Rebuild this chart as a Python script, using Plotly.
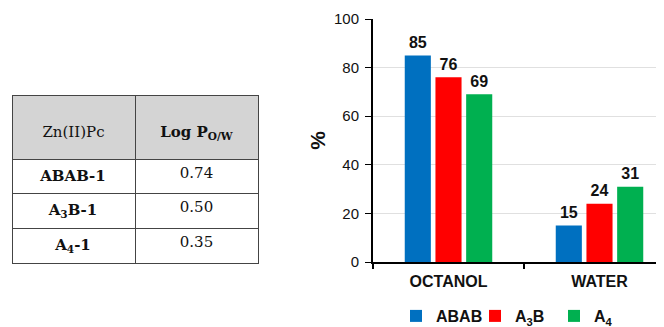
import plotly.graph_objects as go

# Table data
table_col_headers = ["Zn(II)Pc", "<b>Log P<sub>O/W</sub></b>"]
table_compounds = ["<b>ABAB-1</b>", "<b>A<sub>3</sub>B-1</b>", "<b>A<sub>4</sub>-1</b>"]
table_logp = ["0.74", "0.50", "0.35"]

# Bar chart data
categories = ["OCTANOL", "WATER"]
series_names = ["ABAB", "A<sub>3</sub>B", "A<sub>4</sub>"]
abab_vals = [85, 15]
a3b_vals = [76, 24]
a4_vals = [69, 31]
series_colors = ["#0070C0", "#FF0000", "#00B050"]
y_ticks = [0, 20, 40, 60, 80, 100]

# page body has an 8px margin, so the figure is drawn 8px in from the corner
OFF = 8
W, H = 664 - OFF, 327 - OFF
SANS = "Liberation Sans, Arial, sans-serif"
SERIF = "DejaVu Serif, Liberation Serif, serif"


def py(screen_y):
    """screen pixel row -> paper fraction (margins are zero)"""
    return 1 - (screen_y - OFF) / H


def px(screen_x):
    return (screen_x - OFF) / W


fig = go.Figure()

fig.add_trace(go.Table(
    domain=dict(x=[px(12), px(258)], y=[0.0, py(95)]),
    columnwidth=[1, 1],
    header=dict(
        values=["&nbsp;<br>" + h for h in table_col_headers],
        fill_color="#d4d4d4",
        line=dict(color="#444444", width=1),
        font=dict(family=SERIF, size=15, color="#111111"),
        align="center",
        height=64,
    ),
    cells=dict(
        values=[table_compounds, table_logp],
        fill_color="white",
        line=dict(color="#444444", width=1),
        font=dict(family=SERIF, size=15, color="#111111"),
        align="center",
        height=32,
    ),
))

bar_gap = 0.39
for name, vals, col in zip(series_names, [abab_vals, a3b_vals, a4_vals], series_colors):
    fig.add_trace(go.Bar(
        x=categories, y=vals, name=name,
        marker=dict(color=col, line=dict(width=0)),
        hoverinfo="skip",
    ))
for name, vals in zip(series_names, [abab_vals, a3b_vals, a4_vals]):
    fig.add_trace(go.Scatter(
        x=categories, y=vals, name=name, mode="markers+text",
        marker=dict(size=4, opacity=0),
        text=["<b>%d</b>" % v for v in vals],
        textposition="top center",
        textfont=dict(family=SANS, size=16, color="#111111"),
        cliponaxis=False, showlegend=False, hoverinfo="skip",
    ))

fig.update_layout(
    width=W, height=H,
    margin=dict(l=0, r=0, t=0, b=0, autoexpand=False),
    paper_bgcolor="white", plot_bgcolor="white",
    barmode="group", bargap=bar_gap, bargroupgap=0.15,
    scattermode="group", scattergap=bar_gap,
    font=dict(family=SANS, color="#111111"),
    xaxis=dict(
        domain=[px(373), 1.0],
        range=[-0.5, -0.5 + 291 / 151],
        showline=True, linecolor="black", linewidth=2,
        ticks="outside", tickson="boundaries", ticklen=5, tickcolor="black", tickwidth=2,
        tickfont=dict(size=16, family=SANS, color="#111111"),
        tickprefix="<b>", ticksuffix="</b>",
        ticklabelstandoff=4,
        showgrid=False, zeroline=False,
    ),
    yaxis=dict(
        domain=[py(262), py(19)],
        range=[0, 100], tickvals=y_ticks,
        showline=True, linecolor="black", linewidth=2,
        ticks="outside", ticklen=6, tickcolor="black", tickwidth=1,
        tickfont=dict(size=15, family=SANS, color="#111111"),
        tickprefix="<b>", ticksuffix="</b>",
        ticklabelstandoff=3,
        showgrid=True, gridcolor="#e0e0e0", gridwidth=1,
        zeroline=False,
        title=dict(text="<b>%</b>", font=dict(size=21, family=SANS), standoff=3),
    ),
    legend=dict(
        orientation="h", x=px(396), y=py(299), xanchor="left", yanchor="top",
        font=dict(size=16, family=SANS, color="#111111", weight="bold"),
        itemwidth=30, tracegroupgap=0, entrywidth=34, entrywidthmode="pixels",
    ),
    showlegend=True,
)

fig.write_html("out.html")
